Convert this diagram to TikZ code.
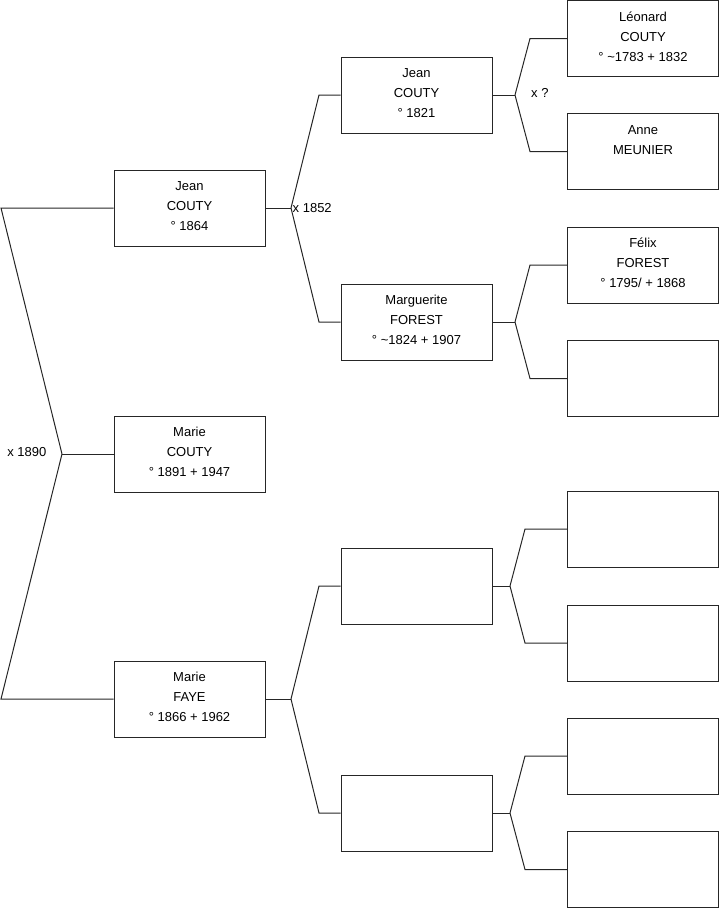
\documentclass[tikz,border=0pt]{standalone}
\usepackage{fontspec}
\setmainfont{Liberation Sans}
\begin{document}
\begin{tikzpicture}[x=1pt,y=-1pt,
 box/.style={draw=black!85, line width=1pt, minimum width=151pt, minimum height=76pt, inner sep=0pt, fill=white},
 info/.style={anchor=base, inner sep=0pt, font=\fontsize{13}{20}\selectfont},
 conn/.style={draw=black!85, line width=1pt},
 lbl/.style={inner sep=0pt, font=\fontsize{13}{15}\selectfont}]
\useasboundingbox (0,0) rectangle (719,908);
% generation 1 (x centre 189.5)
\node[box] (jean1) at (189.5,208) {};
\node[box] (marie) at (189.5,454) {};
\node[box] (faye) at (189.5,699) {};
% generation 2 (x centre 416.5)
\node[box] (jean2) at (416.5,95) {};
\node[box] (marg) at (416.5,322) {};
\node[box] (ea) at (416.5,586) {};
\node[box] (eb) at (416.5,813) {};
% generation 3 (x centre 643)
\node[box] (leo) at (643,38.5) {};
\node[box] (anne) at (643,151.5) {};
\node[box] (felix) at (643,265) {};
\node[box] (fa) at (643,378.5) {};
\node[box] (fb) at (643,529) {};
\node[box] (fc) at (643,643) {};
\node[box] (fd) at (643,756) {};
\node[box] (fe) at (643,869.5) {};
% texts
\node[info] (jean1t) at (189.5,190.6) {\begin{tabular}[t]{@{}c@{}}Jean\\COUTY\\° 1864\end{tabular}};
\node[info] (mariet) at (189.5,436.6) {\begin{tabular}[t]{@{}c@{}}Marie\\COUTY\\° 1891 + 1947\end{tabular}};
\node[info] (fayet) at (189.5,681.6) {\begin{tabular}[t]{@{}c@{}}Marie\\FAYE\\° 1866 + 1962\end{tabular}};
\node[info] (jean2t) at (416.5,77.6) {\begin{tabular}[t]{@{}c@{}}Jean\\COUTY\\° 1821\end{tabular}};
\node[info] (margt) at (416.5,304.6) {\begin{tabular}[t]{@{}c@{}}Marguerite\\FOREST\\° \textasciitilde 1824 + 1907\end{tabular}};
\node[info] (leot) at (643,21.1) {\begin{tabular}[t]{@{}c@{}}Léonard\\COUTY\\° \textasciitilde 1783 + 1832\end{tabular}};
\node[info] (annet) at (643,134.1) {\begin{tabular}[t]{@{}c@{}}Anne\\MEUNIER\end{tabular}};
\node[info] (felixt) at (643,247.6) {\begin{tabular}[t]{@{}c@{}}Félix\\FOREST\\° 1795/ + 1868\end{tabular}};
% junction coordinates
\coordinate (j0) at (62,454);
\coordinate (j0a) at (1,208);
\coordinate (j0b) at (1,699);
\coordinate (j1) at (291,208);
\coordinate (j1a) at (319,95);
\coordinate (j1b) at (319,322);
\coordinate (j2) at (291,699);
\coordinate (j2a) at (319,586);
\coordinate (j2b) at (319,813);
\coordinate (j3) at (515,95);
\coordinate (j3a) at (530,38.5);
\coordinate (j3b) at (530,151.5);
\coordinate (j4) at (515,322);
\coordinate (j4a) at (530,265);
\coordinate (j4b) at (530,378.5);
\coordinate (j5) at (510,586);
\coordinate (j5a) at (525,529);
\coordinate (j5b) at (525,643);
\coordinate (j6) at (510,813);
\coordinate (j6a) at (525,756);
\coordinate (j6b) at (525,869.5);
% connectors
\draw[conn] (marie.west) -- (j0);
\draw[conn] (j0) -- (j0a) -- (jean1.west);
\draw[conn] (j0) -- (j0b) -- (faye.west);
\draw[conn] (jean1.east) -- (j1);
\draw[conn] (j1) -- (j1a) -- (jean2.west);
\draw[conn] (j1) -- (j1b) -- (marg.west);
\draw[conn] (faye.east) -- (j2);
\draw[conn] (j2) -- (j2a) -- (ea.west);
\draw[conn] (j2) -- (j2b) -- (eb.west);
\draw[conn] (jean2.east) -- (j3);
\draw[conn] (j3) -- (j3a) -- (leo.west);
\draw[conn] (j3) -- (j3b) -- (anne.west);
\draw[conn] (marg.east) -- (j4);
\draw[conn] (j4) -- (j4a) -- (felix.west);
\draw[conn] (j4) -- (j4b) -- (fa.west);
\draw[conn] (ea.east) -- (j5);
\draw[conn] (j5) -- (j5a) -- (fb.west);
\draw[conn] (j5) -- (j5b) -- (fc.west);
\draw[conn] (eb.east) -- (j6);
\draw[conn] (j6) -- (j6a) -- (fd.west);
\draw[conn] (j6) -- (j6b) -- (fe.west);
% marriage labels
\node[lbl, anchor=base east] (m0) at (46.5,456) {x 1890};
\node[lbl, anchor=base west] (m1) at (292.5,212) {x 1852};
\node[lbl, anchor=base west] (m3) at (531,97) {x ?};
\end{tikzpicture}
\end{document}
